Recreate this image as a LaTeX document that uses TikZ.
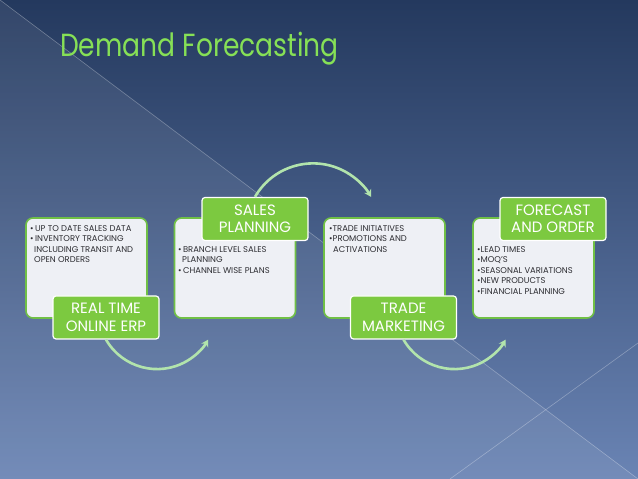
\documentclass[tikz,border=0pt]{standalone}
\usepackage{fontspec}
\setmainfont{Poppins}
\usetikzlibrary{positioning,arrows.meta}

\definecolor{slidetop}{RGB}{36,57,94}
\definecolor{slidemid}{RGB}{52,78,124}
\definecolor{slidebot}{RGB}{106,132,180}
\definecolor{panelfill}{RGB}{238,240,245}
\definecolor{panelgreen}{RGB}{112,192,70}
\definecolor{taggreen}{RGB}{124,201,64}
\definecolor{flowgreen}{RGB}{178,228,172}
\definecolor{titlegreen}{RGB}{134,224,86}
\definecolor{notegray}{RGB}{45,45,50}

\tikzset{
  panel/.style={draw=panelgreen, line width=1.6pt, fill=panelfill, rounded corners=7pt,
    minimum width=121pt, minimum height=100pt},
  tag/.style={draw=white, line width=1.2pt, fill=taggreen, rounded corners=3pt,
    minimum width=106pt, minimum height=43pt, text=white, align=center,
    font=\fontsize{15}{17.5}\selectfont},
  notes/.style={anchor=north west, align=left, inner sep=0pt, text=notegray,
    font=\fontsize{8.4}{10.6}\selectfont},
  flow/.style={draw=flowgreen, line width=2.6pt, -{Stealth[length=7pt,width=8pt]}}
}

\begin{document}
\begin{tikzpicture}[x=1pt,y=1pt]

\useasboundingbox (0,0) rectangle (638,479);

% background
\fill[top color=slidetop, middle color=slidemid, bottom color=slidebot] (0,0) rectangle (638,479);
\fill[white, opacity=0.07] (0,479) -- (638,0) -- (0,0) -- cycle;
\draw[white, opacity=0.3, line width=0.6pt] (0,479) -- (638,0);
\draw[white, opacity=0.3, line width=0.6pt] (638,136) -- (450,0);

\node[anchor=base west, inner sep=0pt, text=titlegreen, font=\fontsize{32}{38}\selectfont]
  (title) at (60,422) {\scalebox{0.83}[1]{Demand Forecasting}};

% panels
\node[panel] (erpbox)  at (86.5,211) {};
\node[panel] (salesbox) at (235,211) {};
\node[panel] (tradebox) at (384.5,211) {};
\node[panel] (fcbox)   at (533.5,211) {};

\node[notes] (erpnotes) at (30,254)
  {•\,UP TO DATE SALES DATA\\ •\,INVENTORY TRACKING\\ \hspace*{4pt}INCLUDING TRANSIT AND\\ \hspace*{4pt}OPEN ORDERS};
\node[notes] (salesnotes) at (178,233)
  {•\,BRANCH LEVEL SALES\\ \hspace*{4pt}PLANNING\\ •\,CHANNEL WISE PLANS};
\node[notes] (tradenotes) at (329,254)
  {•TRADE INITIATIVES\\ •PROMOTIONS AND\\ \hspace*{4pt}ACTIVATIONS};
\node[notes] (fcnotes) at (477,233)
  {•LEAD TIMES\\ •MOQ’S\\ •SEASONAL VARIATIONS\\ •NEW PRODUCTS\\ •FINANCIAL PLANNING};

% labels
\node[tag] (erp)   at (106,161.5) {REAL TIME\\ONLINE ERP};
\node[tag] (sales) at (255,260)   {SALES\\PLANNING};
\node[tag] (trade) at (403.5,161.5) {TRADE\\MARKETING};
\node[tag] (fc)    at (553,260)   {FORECAST\\AND ORDER};

% arrows
\draw[flow] (erp.south) arc[start angle=210, end angle=330, radius=59];
\draw[flow] (sales.north) arc[start angle=150, end angle=30, radius=67];
\draw[flow] (trade.south) arc[start angle=210, end angle=330, radius=59];

\end{tikzpicture}
\end{document}
